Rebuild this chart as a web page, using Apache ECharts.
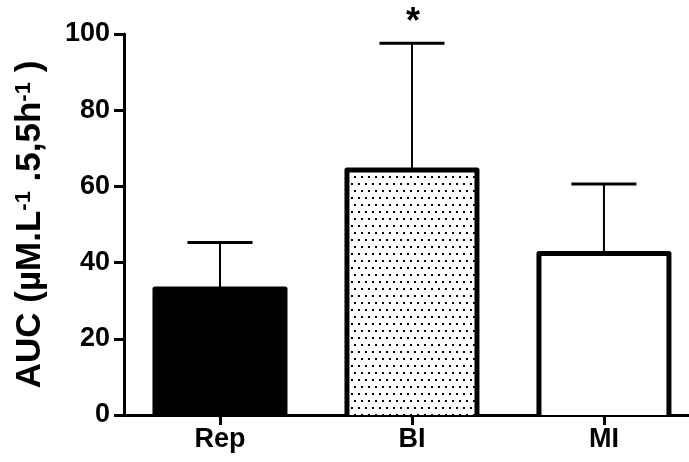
<!DOCTYPE html>
<html>
<head>
<meta charset="utf-8">
<script src="https://cdn.jsdelivr.net/npm/echarts@6/dist/echarts.min.js"></script>
<style>
html,body{margin:0;padding:0;background:#fff;}
#c{width:689px;height:462px;}
</style>
</head>
<body>
<div id="c"></div>
<script>
var categories = ['Rep', 'BI', 'MI'];
var means = [33.1, 64.3, 42.4];
var errUpper = [45.3, 97.6, 60.6];
var significance = ['', '*', ''];
var yTicks = [0, 20, 40, 60, 80, 100];

function makeDots() {
  var cv = document.createElement('canvas');
  cv.width = 14; cv.height = 14;
  var g = cv.getContext('2d');
  g.fillStyle = '#fff';
  g.fillRect(0, 0, 14, 14);
  g.fillStyle = '#000';
  g.fillRect(1, 1, 2, 2);
  g.fillRect(8, 1, 2, 2);
  g.fillRect(4, 8, 2, 2);
  g.fillRect(11, 8, 2, 2);
  return cv;
}
var fills = ['#000', {image: makeDots(), repeat: 'repeat'}, '#fff'];

var chart = echarts.init(document.getElementById('c'), null, {renderer: 'canvas'});
var font = 'Liberation Sans, Arial, Helvetica, sans-serif';
var catIdx = categories.map(function (c, i) { return i; });

var barData = means.map(function (v, i) { return [i, v]; });
var errData = means.map(function (v, i) { return [i, v, errUpper[i]]; });
var BAR_PX = 130;

chart.setOption({
  animation: false,
  backgroundColor: '#fff',
  grid: {left: 124, top: 34, right: 0, height: 381},
  xAxis: {
    type: 'value',
    min: -0.5, max: 2.443,
    splitLine: {show: false},
    axisLine: {show: true, onZero: false, lineStyle: {color: '#000', width: 3}},
    axisTick: {show: true, customValues: catIdx, length: 10, lineStyle: {color: '#000', width: 3}},
    axisLabel: {
      customValues: catIdx,
      formatter: function (v) { return categories[Math.round(v)]; },
      color: '#000', fontFamily: font, fontWeight: 'bold', fontSize: 27, margin: 11
    }
  },
  yAxis: {
    type: 'value',
    min: yTicks[0], max: yTicks[yTicks.length - 1], interval: 20,
    splitLine: {show: false},
    axisLine: {show: true, onZero: false, lineStyle: {color: '#000', width: 3}},
    axisTick: {show: true, length: 10, lineStyle: {color: '#000', width: 3}},
    axisLabel: {color: '#000', fontFamily: font, fontWeight: 'bold', fontSize: 27, margin: 14},
    name: '{a|AUC (µM.L}{s|-1}{a| .5,5h}{s|-1}{a| )}',
    nameLocation: 'middle',
    nameRotate: 90,
    nameGap: 76,
    nameTextStyle: {
      rich: {
        a: {fontFamily: font, fontWeight: 'bold', fontSize: 35, color: '#000', verticalAlign: 'bottom'},
        s: {fontFamily: font, fontWeight: 'bold', fontSize: 22, color: '#000', verticalAlign: 'top'}
      }
    }
  },
  series: [
    {
      type: 'custom',
      z: 1,
      data: errData,
      renderItem: function (params, api) {
        var i = api.value(0);
        var base = api.coord([i, api.value(1)]);
        var top = api.coord([i, api.value(2)]);
        var half = 32.5;
        var children = [
          {type: 'line', shape: {x1: top[0], y1: base[1], x2: top[0], y2: top[1]}, style: {stroke: '#000', lineWidth: 2}},
          {type: 'line', shape: {x1: top[0] - half, y1: top[1], x2: top[0] + half, y2: top[1]}, style: {stroke: '#000', lineWidth: 3}}
        ];
        var lab = significance[params.dataIndex];
        if (lab) {
          children.push({type: 'text', style: {text: lab, x: top[0] + 1, y: top[1] - 20, align: 'center', verticalAlign: 'middle', font: 'bold 36px ' + font, fill: '#000'}});
        }
        return {type: 'group', children: children};
      }
    },
    {
      type: 'custom',
      z: 2,
      data: barData,
      renderItem: function (params, api) {
        var i = api.value(0);
        var t = api.coord([i, api.value(1)]);
        var b = api.coord([i, 0]);
        var l = t[0] - BAR_PX / 2, r = t[0] + BAR_PX / 2;
        return {type: 'group', children: [
          {type: 'rect', shape: {x: l, y: t[1], width: BAR_PX, height: b[1] - t[1]}, style: {fill: fills[params.dataIndex]}},
          {type: 'polyline', shape: {points: [[l, b[1]], [l, t[1]], [r, t[1]], [r, b[1]]]}, style: {fill: null, stroke: '#000', lineWidth: 5, lineJoin: 'round'}}
        ]};
      }
    }
  ]
});
</script>
</body>
</html>
